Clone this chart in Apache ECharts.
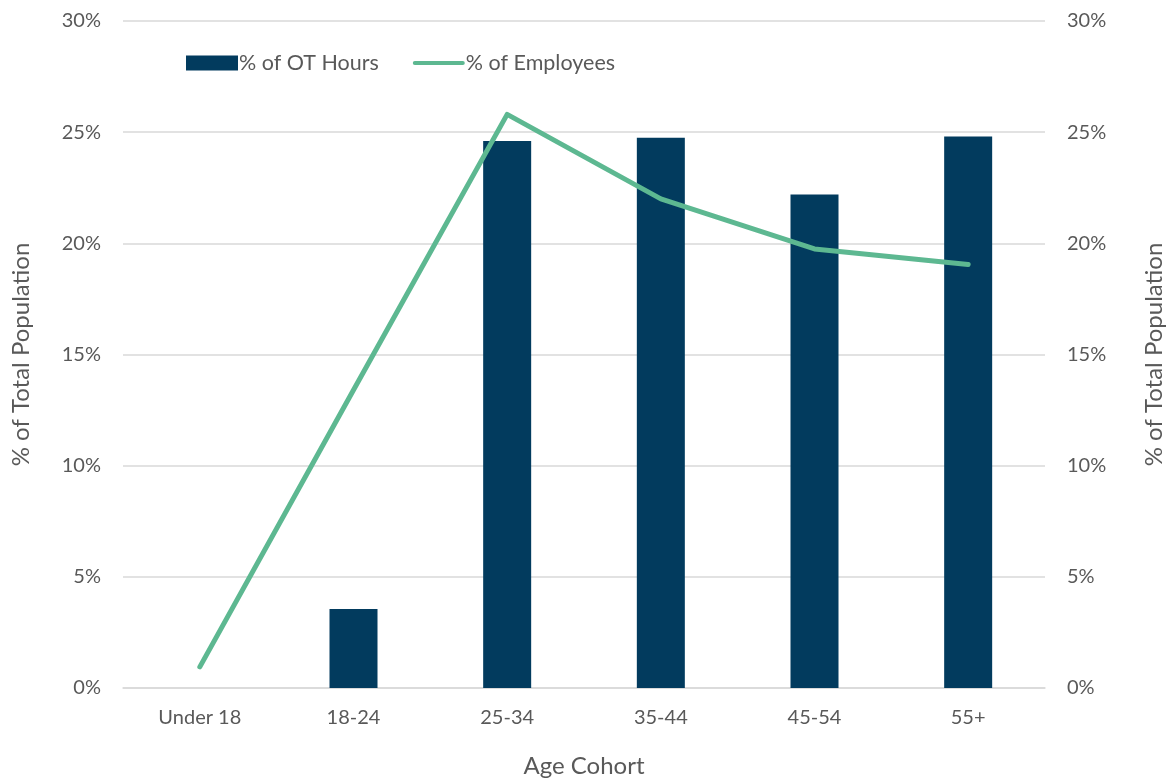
<!DOCTYPE html>
<html>
<head>
<meta charset="utf-8">
<script src="https://cdn.jsdelivr.net/npm/echarts@6/dist/echarts.min.js"></script>
<style>
  html, body { margin: 0; padding: 0; background: #fff; }
  #chart { width: 1170px; height: 782px; }
</style>
</head>
<body>
<div id="chart"></div>
<script>
// Age cohorts on the category axis
const cohorts = ['Under 18', '18-24', '25-34', '35-44', '45-54', '55+'];
// Share of overtime hours by cohort (%), null where no bar is drawn
const otHoursPct = [null, 3.55, 24.6, 24.75, 22.2, 24.8];
// Share of employees by cohort (%)
const employeesPct = [0.95, 13.4, 25.8, 22.0, 19.75, 19.05];
// Value axis ticks (%)
const yTicks = [0, 5, 10, 15, 20, 25, 30];

const textColor = '#595959';
const gridColor = '#d9d9d9';
const font = 'Lato';

const chart = echarts.init(document.getElementById('chart'));

function valueAxis(position, nameGap, showGrid) {
  return {
    type: 'value',
    position: position,
    min: yTicks[0],
    max: yTicks[yTicks.length - 1],
    interval: yTicks[1] - yTicks[0],
    name: '% of Total Population',
    nameLocation: 'middle',
    nameGap: nameGap,
    nameTextStyle: { color: textColor, fontSize: 24, fontFamily: font },
    axisLine: { show: false },
    axisTick: { show: false },
    axisLabel: {
      color: textColor, fontSize: 20, fontFamily: font, margin: 22,
      formatter: v => v + '%'
    },
    splitLine: { show: showGrid, lineStyle: { color: gridColor, width: 1.5 } }
  };
}

chart.setOption({
  animation: false,
  grid: {
    left: 123, right: 125, top: 21, bottom: 94,
    containLabel: false, outerBoundsMode: 'none'
  },
  legend: {
    left: 181,
    top: 47,
    itemWidth: 52,
    itemHeight: 15,
    itemGap: 34,
    textStyle: { color: textColor, fontSize: 21.5, fontFamily: font, padding: [0, 0, 0, -4] },
    data: [
      { name: '% of OT Hours', icon: 'rect' },
      { name: '% of Employees', icon: 'path://M2,0 L50,0 A2,2 0 0 1 50,4 L2,4 A2,2 0 0 1 2,0 Z', itemStyle: { color: '#5db891' } }
    ]
  },
  xAxis: {
    type: 'category',
    data: cohorts,
    name: 'Age Cohort',
    nameLocation: 'middle',
    nameGap: 66,
    nameTextStyle: { color: textColor, fontSize: 24, fontFamily: font },
    axisLine: { show: true, lineStyle: { color: gridColor, width: 1.5 } },
    axisTick: { show: false },
    axisLabel: { color: textColor, fontSize: 20, fontFamily: font, margin: 20 }
  },
  yAxis: [
    valueAxis('left', 90, true),
    valueAxis('right', 97, false)
  ],
  series: [
    {
      name: '% of OT Hours',
      type: 'bar',
      yAxisIndex: 0,
      data: otHoursPct,
      barWidth: 48,
      itemStyle: { color: '#023b5e' }
    },
    {
      name: '% of Employees',
      type: 'line',
      yAxisIndex: 1,
      data: employeesPct,
      showSymbol: false,
      symbol: 'none',
      lineStyle: { color: '#5db891', width: 5, cap: 'round', join: 'round' },
      itemStyle: { color: '#5db891' }
    }
  ]
});
</script>
</body>
</html>
